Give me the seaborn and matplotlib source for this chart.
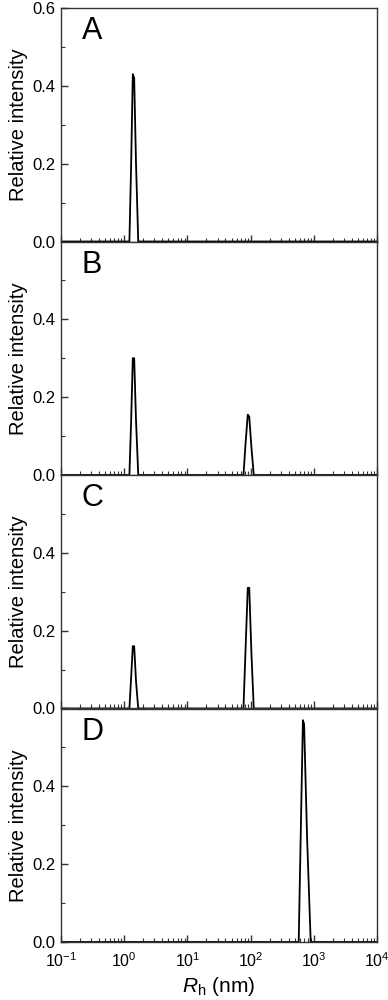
import numpy as np
import pandas as pd
import matplotlib
matplotlib.use("Agg")
import matplotlib.pyplot as plt
import seaborn as sns
from matplotlib.ticker import LogLocator, FixedLocator, NullFormatter

sns.set_theme(style="ticks")
plt.rcParams['font.family'] = ['Liberation Sans', 'DejaVu Sans']
plt.rcParams['mathtext.fontset'] = 'custom'
plt.rcParams['mathtext.rm'] = 'Liberation Sans'
plt.rcParams['mathtext.it'] = 'Liberation Sans:italic'
plt.rcParams['text.color'] = 'black'
plt.rcParams['axes.labelcolor'] = 'black'
plt.rcParams['xtick.labelcolor'] = 'black'
plt.rcParams['ytick.labelcolor'] = 'black'

panel_labels = ["A", "B", "C", "D"]

# Rh (nm) and relative intensity for each panel
x_A = [0.1, 1.21, 1.29, 1.37, 1.44, 1.54, 1.67, 10000]
y_A = [0.0, 0.0, 0.20, 0.43, 0.42, 0.20, 0.0, 0.0]

x_B = [0.1, 1.21, 1.29, 1.37, 1.44, 1.54, 1.67, 77, 83, 90, 95, 103, 112, 10000]
y_B = [0.0, 0.0, 0.14, 0.30, 0.30, 0.14, 0.0, 0.0, 0.08, 0.155, 0.15, 0.07, 0.0, 0.0]

x_C = [0.1, 1.21, 1.29, 1.37, 1.44, 1.54, 1.67, 77, 83, 90, 95, 103, 112, 10000]
y_C = [0.0, 0.0, 0.08, 0.16, 0.16, 0.07, 0.0, 0.0, 0.15, 0.31, 0.31, 0.14, 0.0, 0.0]

x_D = [0.1, 575, 620, 670, 700, 780, 890, 10000]
y_D = [0.0, 0.0, 0.28, 0.57, 0.56, 0.27, 0.0, 0.0]

xs = [x_A, x_B, x_C, x_D]
ys = [y_A, y_B, y_C, y_D]

fig, axes = plt.subplots(4, 1, figsize=(3.88, 10.0), dpi=100, sharex=True)
fig.subplots_adjust(left=0.157, right=0.972, top=0.992, bottom=0.058, hspace=0)

for i, ax in enumerate(axes):
    df = pd.DataFrame({"Rh": xs[i], "I": ys[i]})
    sns.lineplot(data=df, x="Rh", y="I", ax=ax, sort=False, estimator=None,
                 color="black", lw=1.3)
    ax.set_xscale("log")
    ax.set_xlim(0.1, 1e4)
    ax.set_ylim(0, 0.6)
    for s in ax.spines.values():
        s.set_visible(True)
        s.set_color("#333333")
        s.set_linewidth(1.0)
    if i == 0:
        ax.yaxis.set_major_locator(FixedLocator([0.0, 0.2, 0.4, 0.6]))
    else:
        ax.yaxis.set_major_locator(FixedLocator([0.0, 0.2, 0.4]))
    ax.yaxis.set_minor_locator(FixedLocator([0.1, 0.3, 0.5]))
    ax.yaxis.set_major_formatter(plt.FuncFormatter(lambda v, p: f"{v:.1f}"))
    ax.xaxis.set_major_locator(LogLocator(base=10, numticks=10))
    ax.xaxis.set_minor_locator(LogLocator(base=10, subs=np.arange(2, 10), numticks=20))
    ax.xaxis.set_minor_formatter(NullFormatter())
    ax.tick_params(axis="both", which="major", direction="in", length=5, width=1,
                   color="#333333", labelcolor="black", labelsize=12,
                   top=False, right=False, pad=4)
    ax.tick_params(axis="both", which="minor", direction="in", length=3, width=0.8,
                   color="#333333", top=False, right=False)
    ax.set_ylabel("Relative intensity", fontsize=14.5, labelpad=3, color="black")
    ax.set_xlabel("")
    ax.text(0.065, 0.90, panel_labels[i], transform=ax.transAxes, fontsize=22,
            ha="left", va="center", color="black")

axes[-1].set_xlabel(r"$R_\mathrm{h}$ (nm)", fontsize=15, labelpad=3, color="black")
axes[-1].tick_params(axis="x", labelsize=11.5, pad=7)

fig.savefig("out.png", dpi=100)
